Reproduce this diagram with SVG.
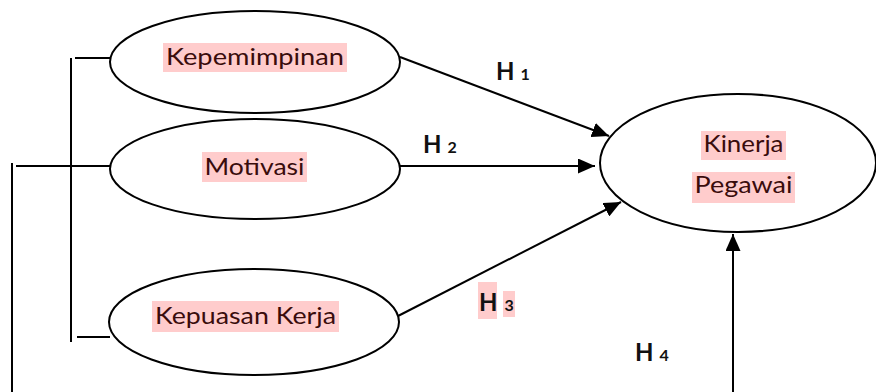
<svg xmlns="http://www.w3.org/2000/svg" width="876" height="392" viewBox="0 0 876 392">
<style>
.node ellipse{fill:#fff;stroke:#000;stroke-width:2}
.hl{fill:#ffcccc}
.lbl{font-family:Lato,"Liberation Sans",sans-serif;font-size:24px;fill:#3a0c0c;text-anchor:middle}
.h{font-family:Lato,"Liberation Sans",sans-serif;font-weight:bold;fill:#111}
.ln{stroke:#000;stroke-width:2;fill:none}
</style>
<defs>
<marker id="arr" markerUnits="userSpaceOnUse" markerWidth="17" markerHeight="15" refX="17" refY="7.5" orient="auto">
<path d="M0,0 L17,7.5 L0,15 z" fill="#000"/>
</marker>
</defs>
<rect width="876" height="392" fill="#fff"/>
<g id="connectors">
<path class="ln" d="M12,163 V392"/>
<path class="ln" d="M16,166 H110"/>
<path class="ln" d="M71,58 V342"/>
<path class="ln" d="M75,58 H110"/>
<path class="ln" d="M77,337 H110"/>
<path class="ln" d="M400,57 L609,136" marker-end="url(#arr)"/>
<path class="ln" d="M399,166 H595" marker-end="url(#arr)"/>
<path class="ln" d="M398,316 L621,202" marker-end="url(#arr)"/>
<path class="ln" d="M733,392 V234" marker-end="url(#arr)"/>
<text class="h" x="496" y="80" font-size="24">H<tspan font-size="16" dx="6">1</tspan></text>
<text class="h" x="423" y="153" font-size="24">H<tspan font-size="16" dx="6">2</tspan></text>
<rect class="hl" x="478" y="282" width="19" height="37"/>
<rect class="hl" x="503" y="291" width="12" height="26"/>
<text class="h" x="479" y="311" font-size="24" fill="#3a0c0c">H<tspan font-size="16" dx="7">3</tspan></text>
<text class="h" x="635" y="361" font-size="24">H<tspan font-size="16" dx="6">4</tspan></text>
</g>
<g id="kepemimpinan" class="node">
<ellipse cx="255" cy="62" rx="145" ry="51"/>
<rect class="hl" x="163" y="43" width="184" height="29"/>
<text class="lbl" x="255" y="65" textLength="178" lengthAdjust="spacingAndGlyphs">Kepemimpinan</text>
</g>
<g id="motivasi" class="node">
<ellipse cx="255" cy="169" rx="145" ry="50"/>
<rect class="hl" x="202" y="152" width="105" height="30"/>
<text class="lbl" x="254.5" y="175" textLength="100" lengthAdjust="spacingAndGlyphs">Motivasi</text>
</g>
<g id="kepuasan" class="node">
<ellipse cx="254" cy="322" rx="145" ry="53"/>
<rect class="hl" x="152" y="301" width="187" height="31"/>
<text class="lbl" x="245.5" y="324" textLength="181" lengthAdjust="spacingAndGlyphs">Kepuasan Kerja</text>
</g>
<g id="kinerja" class="node">
<ellipse cx="738" cy="163" rx="138" ry="69"/>
<rect class="hl" x="701" y="131" width="85" height="29"/>
<text class="lbl" x="743.5" y="152" textLength="80" lengthAdjust="spacingAndGlyphs">Kinerja</text>
<rect class="hl" x="692" y="172" width="103" height="31"/>
<text class="lbl" x="743.5" y="193" textLength="98" lengthAdjust="spacingAndGlyphs">Pegawai</text>
</g>
</svg>
